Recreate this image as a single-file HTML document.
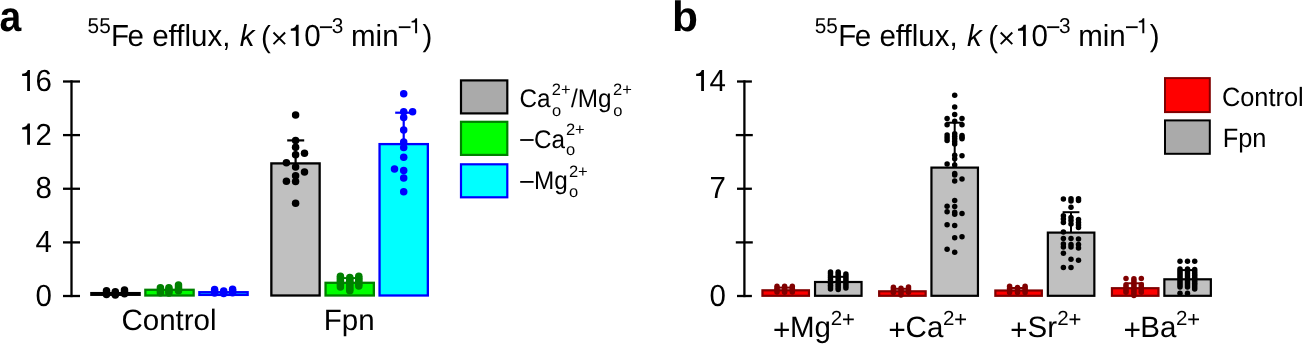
<!DOCTYPE html>
<html><head><meta charset="utf-8"><style>
html,body{margin:0;padding:0;background:#fff;}
body{width:1302px;height:344px;overflow:hidden;}
svg{display:block;font-family:"Liberation Sans", sans-serif;will-change:transform;}
</style></head><body>
<svg width="1302" height="344" viewBox="0 0 1302 344" font-family='"Liberation Sans", sans-serif' text-rendering="geometricPrecision">
<rect width="1302" height="344" fill="#fff"/>
<line x1="71.50" y1="80.35" x2="71.50" y2="297.15" stroke="#000" stroke-width="2.3" stroke-linecap="butt"/>
<line x1="63.00" y1="81.50" x2="80.00" y2="81.50" stroke="#000" stroke-width="2.3" stroke-linecap="butt"/>
<path d="M27.16,91.10 L29.96,91.10 L29.96,69.88 L27.75,69.88 C27.22,72.02 25.10,73.64 22.15,73.82 L22.15,75.93 L27.16,75.93 Z" fill="#000"/>
<text x="52.00" y="91.10" font-size="29.5" transform="matrix(1 0 0 1.035 0 -3.188)" text-anchor="end">6</text>
<line x1="63.00" y1="135.10" x2="80.00" y2="135.10" stroke="#000" stroke-width="2.3" stroke-linecap="butt"/>
<path d="M27.16,144.70 L29.96,144.70 L29.96,123.48 L27.75,123.48 C27.22,125.62 25.10,127.24 22.15,127.42 L22.15,129.53 L27.16,129.53 Z" fill="#000"/>
<text x="52.00" y="144.70" font-size="29.5" transform="matrix(1 0 0 1.035 0 -5.064)" text-anchor="end">2</text>
<line x1="63.00" y1="188.75" x2="80.00" y2="188.75" stroke="#000" stroke-width="2.3" stroke-linecap="butt"/>
<text x="52.00" y="198.35" font-size="29.5" transform="matrix(1 0 0 1.035 0 -6.942)" text-anchor="end">8</text>
<line x1="63.00" y1="242.40" x2="80.00" y2="242.40" stroke="#000" stroke-width="2.3" stroke-linecap="butt"/>
<text x="52.00" y="252.00" font-size="29.5" transform="matrix(1 0 0 1.035 0 -8.820)" text-anchor="end">4</text>
<line x1="63.00" y1="296.00" x2="80.00" y2="296.00" stroke="#000" stroke-width="2.3" stroke-linecap="butt"/>
<text x="52.00" y="305.60" font-size="29.5" transform="matrix(1 0 0 1.035 0 -10.696)" text-anchor="end">0</text>
<rect x="91.35" y="293.10" width="48.30" height="1.70" fill="#000" stroke="#000" stroke-width="2.3"/>
<rect x="145.35" y="289.80" width="48.30" height="5.70" fill="#00ff00" stroke="#008000" stroke-width="2.3"/>
<rect x="199.35" y="292.20" width="48.30" height="2.70" fill="#00ffff" stroke="#0000ff" stroke-width="2.3"/>
<rect x="271.35" y="163.40" width="48.30" height="132.10" fill="#c0c0c0" stroke="#000" stroke-width="2.3"/>
<rect x="325.55" y="282.80" width="48.30" height="12.70" fill="#00ff00" stroke="#008000" stroke-width="2.3"/>
<rect x="379.55" y="144.10" width="48.30" height="151.40" fill="#00ffff" stroke="#0000ff" stroke-width="2.3"/>
<line x1="295.60" y1="163.40" x2="295.60" y2="140.40" stroke="#000" stroke-width="2.2" stroke-linecap="butt"/>
<line x1="287.20" y1="140.40" x2="304.20" y2="140.40" stroke="#000" stroke-width="2.2" stroke-linecap="butt"/>
<line x1="403.70" y1="144.10" x2="403.70" y2="112.70" stroke="#0000ff" stroke-width="2.2" stroke-linecap="butt"/>
<line x1="395.20" y1="112.70" x2="412.20" y2="112.70" stroke="#0000ff" stroke-width="2.2" stroke-linecap="butt"/>
<line x1="349.60" y1="282.80" x2="349.60" y2="278.10" stroke="#008000" stroke-width="2.0" stroke-linecap="butt"/>
<line x1="341.10" y1="278.10" x2="358.10" y2="278.10" stroke="#008000" stroke-width="2.0" stroke-linecap="butt"/>
<circle cx="106.50" cy="290.80" r="3.75" fill="#000"/>
<circle cx="106.50" cy="292.65" r="3.75" fill="#000"/>
<circle cx="106.50" cy="294.50" r="3.75" fill="#000"/>
<circle cx="115.30" cy="291.80" r="3.75" fill="#000"/>
<circle cx="115.30" cy="293.45" r="3.75" fill="#000"/>
<circle cx="115.30" cy="295.10" r="3.75" fill="#000"/>
<circle cx="124.50" cy="290.10" r="3.75" fill="#000"/>
<circle cx="124.50" cy="291.95" r="3.75" fill="#000"/>
<circle cx="124.50" cy="293.80" r="3.75" fill="#000"/>
<circle cx="160.40" cy="287.80" r="3.75" fill="#008000"/>
<circle cx="160.40" cy="290.30" r="3.75" fill="#008000"/>
<circle cx="160.40" cy="292.80" r="3.75" fill="#008000"/>
<circle cx="168.90" cy="287.80" r="3.75" fill="#008000"/>
<circle cx="168.90" cy="289.57" r="3.75" fill="#008000"/>
<circle cx="168.90" cy="291.33" r="3.75" fill="#008000"/>
<circle cx="168.90" cy="293.10" r="3.75" fill="#008000"/>
<circle cx="178.50" cy="285.00" r="3.75" fill="#008000"/>
<circle cx="178.50" cy="286.90" r="3.75" fill="#008000"/>
<circle cx="178.50" cy="288.80" r="3.75" fill="#008000"/>
<circle cx="178.50" cy="290.70" r="3.75" fill="#008000"/>
<circle cx="214.60" cy="289.60" r="3.75" fill="#0000ff"/>
<circle cx="214.60" cy="291.35" r="3.75" fill="#0000ff"/>
<circle cx="214.60" cy="293.10" r="3.75" fill="#0000ff"/>
<circle cx="223.70" cy="291.10" r="3.75" fill="#0000ff"/>
<circle cx="223.70" cy="293.60" r="3.75" fill="#0000ff"/>
<circle cx="232.60" cy="289.30" r="3.75" fill="#0000ff"/>
<circle cx="232.60" cy="291.05" r="3.75" fill="#0000ff"/>
<circle cx="232.60" cy="292.80" r="3.75" fill="#0000ff"/>
<circle cx="295.60" cy="115.00" r="3.75" fill="#000"/>
<circle cx="295.60" cy="140.60" r="3.75" fill="#000"/>
<circle cx="295.60" cy="147.20" r="3.75" fill="#000"/>
<circle cx="304.50" cy="153.30" r="3.75" fill="#000"/>
<circle cx="295.60" cy="154.80" r="3.75" fill="#000"/>
<circle cx="286.40" cy="162.70" r="3.75" fill="#000"/>
<circle cx="295.60" cy="166.90" r="3.75" fill="#000"/>
<circle cx="304.50" cy="172.00" r="3.75" fill="#000"/>
<circle cx="295.60" cy="175.80" r="3.75" fill="#000"/>
<circle cx="286.40" cy="181.20" r="3.75" fill="#000"/>
<circle cx="295.60" cy="181.40" r="3.75" fill="#000"/>
<circle cx="295.60" cy="203.30" r="3.75" fill="#000"/>
<circle cx="340.40" cy="276.20" r="3.75" fill="#008000"/>
<circle cx="340.40" cy="278.34" r="3.75" fill="#008000"/>
<circle cx="340.40" cy="280.48" r="3.75" fill="#008000"/>
<circle cx="340.40" cy="282.62" r="3.75" fill="#008000"/>
<circle cx="340.40" cy="284.76" r="3.75" fill="#008000"/>
<circle cx="340.40" cy="286.90" r="3.75" fill="#008000"/>
<circle cx="349.80" cy="277.50" r="3.75" fill="#008000"/>
<circle cx="349.80" cy="279.40" r="3.75" fill="#008000"/>
<circle cx="349.80" cy="281.30" r="3.75" fill="#008000"/>
<circle cx="349.80" cy="283.20" r="3.75" fill="#008000"/>
<circle cx="349.80" cy="285.10" r="3.75" fill="#008000"/>
<circle cx="349.80" cy="287.00" r="3.75" fill="#008000"/>
<circle cx="349.80" cy="288.90" r="3.75" fill="#008000"/>
<circle cx="349.80" cy="290.80" r="3.75" fill="#008000"/>
<circle cx="358.80" cy="276.20" r="3.75" fill="#008000"/>
<circle cx="358.80" cy="278.16" r="3.75" fill="#008000"/>
<circle cx="358.80" cy="280.12" r="3.75" fill="#008000"/>
<circle cx="358.80" cy="282.08" r="3.75" fill="#008000"/>
<circle cx="358.80" cy="284.04" r="3.75" fill="#008000"/>
<circle cx="358.80" cy="286.00" r="3.75" fill="#008000"/>
<circle cx="403.70" cy="93.70" r="3.75" fill="#0000ff"/>
<circle cx="403.70" cy="111.70" r="3.75" fill="#0000ff"/>
<circle cx="412.60" cy="111.70" r="3.75" fill="#0000ff"/>
<circle cx="403.70" cy="117.60" r="3.75" fill="#0000ff"/>
<circle cx="403.70" cy="130.10" r="3.75" fill="#0000ff"/>
<circle cx="403.70" cy="142.00" r="3.75" fill="#0000ff"/>
<circle cx="403.70" cy="147.60" r="3.75" fill="#0000ff"/>
<circle cx="403.70" cy="157.30" r="3.75" fill="#0000ff"/>
<circle cx="394.50" cy="169.00" r="3.75" fill="#0000ff"/>
<circle cx="403.70" cy="170.60" r="3.75" fill="#0000ff"/>
<circle cx="403.70" cy="178.00" r="3.75" fill="#0000ff"/>
<circle cx="403.70" cy="191.70" r="3.75" fill="#0000ff"/>
<text x="169" y="330.1" text-anchor="middle" font-size="29.5">Control</text>
<text x="349.2" y="330.1" text-anchor="middle" font-size="29.5">Fpn</text>
<rect x="461.00" y="80.40" width="46.30" height="33.00" fill="#aaaaaa" stroke="#000" stroke-width="2.2"/>
<rect x="461.00" y="121.80" width="46.30" height="33.10" fill="#00ff00" stroke="#008000" stroke-width="2.2"/>
<rect x="461.00" y="164.30" width="46.30" height="33.00" fill="#00ffff" stroke="#0000ff" stroke-width="2.2"/>
<text x="87.60" y="33.20" font-size="20.8" transform="matrix(1 0 0 1.03 0 -0.996)">55</text>
<text x="111.00" y="45.90" font-size="29.5" transform="matrix(1 0 0 1.03 0 -1.377)">F</text>
<text x="127.60" y="45.90" font-size="29.5" transform="matrix(1 0 0 1.03 0 -1.377)">e efflux,</text>
<text x="239.80" y="45.90" font-size="29.5" transform="matrix(1 0 0 1.03 0 -1.377)" font-style="italic">k</text>
<text x="261.10" y="46.50" font-size="29.5" transform="matrix(1 0 0 1.03 0 -1.395)">(</text>
<path d="M273.50,32.5 L285.10,44.1 M273.50,44.1 L285.10,32.5" stroke="#000" stroke-width="1.9" fill="none"/>
<path d="M295.81,45.90 L298.62,45.90 L298.62,24.78 L296.41,24.78 C295.87,26.91 293.75,28.52 290.80,28.70 L290.80,30.80 L295.81,30.80 Z" fill="#000"/>
<text x="304.30" y="45.90" font-size="29.5" transform="matrix(1 0 0 1.03 0 -1.377)">0</text>
<rect x="319.90" y="26.3" width="12.2" height="1.8" fill="#000"/>
<text x="331.80" y="33.20" font-size="20.8" transform="matrix(1 0 0 1.03 0 -0.996)">3</text>
<text x="351.00" y="45.90" font-size="29.5" transform="matrix(1 0 0 1.03 0 -1.377)">min</text>
<rect x="398.80" y="26.3" width="11.7" height="1.8" fill="#000"/>
<path d="M415.12,33.20 L417.09,33.20 L417.09,18.31 L415.53,18.31 C415.16,19.81 413.66,20.95 411.58,21.07 L411.58,22.55 L415.12,22.55 Z" fill="#000"/>
<text x="422.50" y="45.90" font-size="29.5" transform="matrix(1 0 0 1.03 0 -1.377)">)</text>
<text x="814.80" y="33.20" font-size="20.8" transform="matrix(1 0 0 1.03 0 -0.996)">55</text>
<text x="838.20" y="45.90" font-size="29.5" transform="matrix(1 0 0 1.03 0 -1.377)">F</text>
<text x="854.80" y="45.90" font-size="29.5" transform="matrix(1 0 0 1.03 0 -1.377)">e efflux,</text>
<text x="967.00" y="45.90" font-size="29.5" transform="matrix(1 0 0 1.03 0 -1.377)" font-style="italic">k</text>
<text x="988.30" y="46.50" font-size="29.5" transform="matrix(1 0 0 1.03 0 -1.395)">(</text>
<path d="M1000.70,32.5 L1012.30,44.1 M1000.70,44.1 L1012.30,32.5" stroke="#000" stroke-width="1.9" fill="none"/>
<path d="M1023.02,45.90 L1025.82,45.90 L1025.82,24.78 L1023.61,24.78 C1023.07,26.91 1020.95,28.52 1018.00,28.70 L1018.00,30.80 L1023.02,30.80 Z" fill="#000"/>
<text x="1031.50" y="45.90" font-size="29.5" transform="matrix(1 0 0 1.03 0 -1.377)">0</text>
<rect x="1047.10" y="26.3" width="12.2" height="1.8" fill="#000"/>
<text x="1059.00" y="33.20" font-size="20.8" transform="matrix(1 0 0 1.03 0 -0.996)">3</text>
<text x="1078.20" y="45.90" font-size="29.5" transform="matrix(1 0 0 1.03 0 -1.377)">min</text>
<rect x="1126.00" y="26.3" width="11.7" height="1.8" fill="#000"/>
<path d="M1142.32,33.20 L1144.29,33.20 L1144.29,18.31 L1142.73,18.31 C1142.36,19.81 1140.86,20.95 1138.78,21.07 L1138.78,22.55 L1142.32,22.55 Z" fill="#000"/>
<text x="1149.70" y="45.90" font-size="29.5" transform="matrix(1 0 0 1.03 0 -1.377)">)</text>
<text x="0" y="31" font-size="42.5" font-weight="bold" transform="translate(-0.55,0) scale(0.92,1)">a</text>
<text x="672" y="31" font-size="42.5" font-weight="bold">b</text>
<text x="519.56" y="107.00" font-size="24.3" transform="matrix(1 0 0 1.05 0 -5.350)">Ca</text>
<text x="551.77" y="95.30" font-size="16.5">2+</text>
<text x="551.91" y="115.60" font-size="16.5">o</text>
<text x="571.00" y="107.00" font-size="24.3" transform="matrix(1 0 0 1.05 0 -5.350)">/Mg</text>
<text x="613.07" y="95.30" font-size="16.5">2+</text>
<text x="613.21" y="115.60" font-size="16.5">o</text>
<rect x="520.2" y="139.1" width="13.4" height="1.8" fill="#000"/>
<text x="534.06" y="147.60" font-size="24.3" transform="matrix(1 0 0 1.05 0 -7.380)">Ca</text>
<text x="565.88" y="134.80" font-size="16.5">2+</text>
<text x="566.01" y="155.30" font-size="16.5">o</text>
<rect x="520.2" y="181.0" width="13.4" height="1.8" fill="#000"/>
<text x="533.91" y="188.80" font-size="24.3" transform="matrix(1 0 0 1.05 0 -9.440)">Mg</text>
<text x="568.88" y="177.20" font-size="16.5">2+</text>
<text x="569.01" y="197.40" font-size="16.5">o</text>
<line x1="744.40" y1="80.35" x2="744.40" y2="297.15" stroke="#000" stroke-width="2.3" stroke-linecap="butt"/>
<line x1="737.00" y1="81.50" x2="751.90" y2="81.50" stroke="#000" stroke-width="2.3" stroke-linecap="butt"/>
<path d="M701.16,91.10 L703.96,91.10 L703.96,69.88 L701.75,69.88 C701.22,72.02 699.10,73.64 696.15,73.82 L696.15,75.93 L701.16,75.93 Z" fill="#000"/>
<text x="726.00" y="91.10" font-size="29.5" transform="matrix(1 0 0 1.035 0 -3.188)" text-anchor="end">4</text>
<line x1="735.80" y1="135.10" x2="752.80" y2="135.10" stroke="#000" stroke-width="2.3" stroke-linecap="butt"/>
<line x1="737.00" y1="188.75" x2="751.90" y2="188.75" stroke="#000" stroke-width="2.3" stroke-linecap="butt"/>
<text x="726.00" y="198.35" font-size="29.5" transform="matrix(1 0 0 1.035 0 -6.942)" text-anchor="end">7</text>
<line x1="735.80" y1="242.40" x2="752.80" y2="242.40" stroke="#000" stroke-width="2.3" stroke-linecap="butt"/>
<line x1="737.00" y1="296.00" x2="751.90" y2="296.00" stroke="#000" stroke-width="2.3" stroke-linecap="butt"/>
<text x="726.00" y="305.60" font-size="29.5" transform="matrix(1 0 0 1.035 0 -10.696)" text-anchor="end">0</text>
<rect x="762.45" y="290.30" width="46.50" height="5.50" fill="#ff0000" stroke="#800000" stroke-width="2.2"/>
<rect x="879.15" y="291.30" width="46.50" height="4.50" fill="#ff0000" stroke="#800000" stroke-width="2.2"/>
<rect x="995.35" y="290.50" width="46.50" height="5.30" fill="#ff0000" stroke="#800000" stroke-width="2.2"/>
<rect x="1111.95" y="288.20" width="46.50" height="7.60" fill="#ff0000" stroke="#800000" stroke-width="2.2"/>
<rect x="815.05" y="282.00" width="46.50" height="13.80" fill="#c0c0c0" stroke="#000" stroke-width="2.2"/>
<rect x="931.45" y="167.60" width="46.50" height="128.20" fill="#c0c0c0" stroke="#000" stroke-width="2.2"/>
<rect x="1047.85" y="232.60" width="46.50" height="63.20" fill="#c0c0c0" stroke="#000" stroke-width="2.2"/>
<rect x="1164.35" y="279.30" width="46.50" height="16.50" fill="#c0c0c0" stroke="#000" stroke-width="2.2"/>
<line x1="954.70" y1="167.60" x2="954.70" y2="122.70" stroke="#000" stroke-width="2.0" stroke-linecap="butt"/>
<line x1="946.30" y1="122.70" x2="963.10" y2="122.70" stroke="#000" stroke-width="2.0" stroke-linecap="butt"/>
<line x1="1071.00" y1="232.60" x2="1071.00" y2="212.20" stroke="#000" stroke-width="2.0" stroke-linecap="butt"/>
<line x1="1062.60" y1="212.20" x2="1079.40" y2="212.20" stroke="#000" stroke-width="2.0" stroke-linecap="butt"/>
<line x1="838.20" y1="282.00" x2="838.20" y2="276.80" stroke="#000" stroke-width="2.0" stroke-linecap="butt"/>
<line x1="829.80" y1="276.80" x2="846.60" y2="276.80" stroke="#000" stroke-width="2.0" stroke-linecap="butt"/>
<line x1="1187.50" y1="279.30" x2="1187.50" y2="270.10" stroke="#000" stroke-width="2.0" stroke-linecap="butt"/>
<line x1="1179.10" y1="270.10" x2="1195.90" y2="270.10" stroke="#000" stroke-width="2.0" stroke-linecap="butt"/>
<line x1="785.70" y1="290.30" x2="785.70" y2="287.60" stroke="#800000" stroke-width="2.0" stroke-linecap="butt"/>
<line x1="777.30" y1="287.60" x2="794.10" y2="287.60" stroke="#800000" stroke-width="2.0" stroke-linecap="butt"/>
<line x1="902.40" y1="291.30" x2="902.40" y2="288.80" stroke="#800000" stroke-width="2.0" stroke-linecap="butt"/>
<line x1="894.00" y1="288.80" x2="910.80" y2="288.80" stroke="#800000" stroke-width="2.0" stroke-linecap="butt"/>
<line x1="1018.60" y1="290.50" x2="1018.60" y2="288.00" stroke="#800000" stroke-width="2.0" stroke-linecap="butt"/>
<line x1="1010.20" y1="288.00" x2="1027.00" y2="288.00" stroke="#800000" stroke-width="2.0" stroke-linecap="butt"/>
<line x1="1135.20" y1="288.20" x2="1135.20" y2="283.30" stroke="#800000" stroke-width="2.0" stroke-linecap="butt"/>
<line x1="1126.80" y1="283.30" x2="1143.60" y2="283.30" stroke="#800000" stroke-width="2.0" stroke-linecap="butt"/>
<circle cx="777.00" cy="286.20" r="2.75" fill="#800000"/>
<circle cx="777.00" cy="288.13" r="2.75" fill="#800000"/>
<circle cx="777.00" cy="290.07" r="2.75" fill="#800000"/>
<circle cx="777.00" cy="292.00" r="2.75" fill="#800000"/>
<circle cx="784.60" cy="286.20" r="2.75" fill="#800000"/>
<circle cx="784.60" cy="288.23" r="2.75" fill="#800000"/>
<circle cx="784.60" cy="290.27" r="2.75" fill="#800000"/>
<circle cx="784.60" cy="292.30" r="2.75" fill="#800000"/>
<circle cx="792.30" cy="286.20" r="2.75" fill="#800000"/>
<circle cx="792.30" cy="288.13" r="2.75" fill="#800000"/>
<circle cx="792.30" cy="290.07" r="2.75" fill="#800000"/>
<circle cx="792.30" cy="292.00" r="2.75" fill="#800000"/>
<circle cx="893.40" cy="287.30" r="2.75" fill="#800000"/>
<circle cx="893.40" cy="289.00" r="2.75" fill="#800000"/>
<circle cx="893.40" cy="290.70" r="2.75" fill="#800000"/>
<circle cx="893.40" cy="292.40" r="2.75" fill="#800000"/>
<circle cx="901.00" cy="288.30" r="2.75" fill="#800000"/>
<circle cx="901.00" cy="290.53" r="2.75" fill="#800000"/>
<circle cx="901.00" cy="292.77" r="2.75" fill="#800000"/>
<circle cx="901.00" cy="295.00" r="2.75" fill="#800000"/>
<circle cx="908.50" cy="287.00" r="2.75" fill="#800000"/>
<circle cx="908.50" cy="288.73" r="2.75" fill="#800000"/>
<circle cx="908.50" cy="290.47" r="2.75" fill="#800000"/>
<circle cx="908.50" cy="292.20" r="2.75" fill="#800000"/>
<circle cx="1009.60" cy="286.20" r="2.75" fill="#800000"/>
<circle cx="1009.60" cy="288.27" r="2.75" fill="#800000"/>
<circle cx="1009.60" cy="290.33" r="2.75" fill="#800000"/>
<circle cx="1009.60" cy="292.40" r="2.75" fill="#800000"/>
<circle cx="1017.50" cy="287.50" r="2.75" fill="#800000"/>
<circle cx="1017.50" cy="289.95" r="2.75" fill="#800000"/>
<circle cx="1017.50" cy="292.40" r="2.75" fill="#800000"/>
<circle cx="1025.10" cy="286.20" r="2.75" fill="#800000"/>
<circle cx="1025.10" cy="288.27" r="2.75" fill="#800000"/>
<circle cx="1025.10" cy="290.33" r="2.75" fill="#800000"/>
<circle cx="1025.10" cy="292.40" r="2.75" fill="#800000"/>
<circle cx="1126.00" cy="278.40" r="2.75" fill="#800000"/>
<circle cx="1126.00" cy="284.80" r="2.75" fill="#800000"/>
<circle cx="1126.00" cy="286.68" r="2.75" fill="#800000"/>
<circle cx="1126.00" cy="288.55" r="2.75" fill="#800000"/>
<circle cx="1126.00" cy="290.43" r="2.75" fill="#800000"/>
<circle cx="1126.00" cy="292.30" r="2.75" fill="#800000"/>
<circle cx="1133.90" cy="278.70" r="2.75" fill="#800000"/>
<circle cx="1133.90" cy="280.79" r="2.75" fill="#800000"/>
<circle cx="1133.90" cy="282.88" r="2.75" fill="#800000"/>
<circle cx="1133.90" cy="284.96" r="2.75" fill="#800000"/>
<circle cx="1133.90" cy="287.05" r="2.75" fill="#800000"/>
<circle cx="1133.90" cy="289.14" r="2.75" fill="#800000"/>
<circle cx="1133.90" cy="291.22" r="2.75" fill="#800000"/>
<circle cx="1133.90" cy="293.31" r="2.75" fill="#800000"/>
<circle cx="1133.90" cy="295.40" r="2.75" fill="#800000"/>
<circle cx="1141.30" cy="278.40" r="2.75" fill="#800000"/>
<circle cx="1141.30" cy="284.80" r="2.75" fill="#800000"/>
<circle cx="1141.30" cy="286.68" r="2.75" fill="#800000"/>
<circle cx="1141.30" cy="288.55" r="2.75" fill="#800000"/>
<circle cx="1141.30" cy="290.43" r="2.75" fill="#800000"/>
<circle cx="1141.30" cy="292.30" r="2.75" fill="#800000"/>
<circle cx="830.50" cy="271.90" r="2.75" fill="#000"/>
<circle cx="830.50" cy="273.80" r="2.75" fill="#000"/>
<circle cx="830.50" cy="275.70" r="2.75" fill="#000"/>
<circle cx="830.50" cy="277.60" r="2.75" fill="#000"/>
<circle cx="830.50" cy="279.50" r="2.75" fill="#000"/>
<circle cx="830.50" cy="281.40" r="2.75" fill="#000"/>
<circle cx="830.50" cy="283.30" r="2.75" fill="#000"/>
<circle cx="830.50" cy="285.20" r="2.75" fill="#000"/>
<circle cx="830.50" cy="287.10" r="2.75" fill="#000"/>
<circle cx="830.50" cy="289.00" r="2.75" fill="#000"/>
<circle cx="838.20" cy="271.90" r="2.75" fill="#000"/>
<circle cx="838.20" cy="273.86" r="2.75" fill="#000"/>
<circle cx="838.20" cy="275.81" r="2.75" fill="#000"/>
<circle cx="838.20" cy="277.77" r="2.75" fill="#000"/>
<circle cx="838.20" cy="279.72" r="2.75" fill="#000"/>
<circle cx="838.20" cy="281.68" r="2.75" fill="#000"/>
<circle cx="838.20" cy="283.63" r="2.75" fill="#000"/>
<circle cx="838.20" cy="285.59" r="2.75" fill="#000"/>
<circle cx="838.20" cy="287.54" r="2.75" fill="#000"/>
<circle cx="838.20" cy="289.50" r="2.75" fill="#000"/>
<circle cx="845.90" cy="274.00" r="2.75" fill="#000"/>
<circle cx="845.90" cy="276.00" r="2.75" fill="#000"/>
<circle cx="845.90" cy="278.00" r="2.75" fill="#000"/>
<circle cx="845.90" cy="280.00" r="2.75" fill="#000"/>
<circle cx="845.90" cy="282.00" r="2.75" fill="#000"/>
<circle cx="845.90" cy="284.00" r="2.75" fill="#000"/>
<circle cx="845.90" cy="286.00" r="2.75" fill="#000"/>
<circle cx="845.90" cy="288.00" r="2.75" fill="#000"/>
<circle cx="954.70" cy="95.20" r="2.75" fill="#000"/>
<circle cx="954.70" cy="106.90" r="2.75" fill="#000"/>
<circle cx="954.70" cy="114.50" r="2.75" fill="#000"/>
<circle cx="954.70" cy="121.20" r="2.75" fill="#000"/>
<circle cx="954.70" cy="133.80" r="2.75" fill="#000"/>
<circle cx="954.70" cy="136.33" r="2.75" fill="#000"/>
<circle cx="954.70" cy="138.85" r="2.75" fill="#000"/>
<circle cx="954.70" cy="141.38" r="2.75" fill="#000"/>
<circle cx="954.70" cy="143.90" r="2.75" fill="#000"/>
<circle cx="954.70" cy="155.30" r="2.75" fill="#000"/>
<circle cx="954.70" cy="158.80" r="2.75" fill="#000"/>
<circle cx="954.70" cy="164.90" r="2.75" fill="#000"/>
<circle cx="954.70" cy="173.60" r="2.75" fill="#000"/>
<circle cx="954.70" cy="174.90" r="2.75" fill="#000"/>
<circle cx="954.70" cy="181.00" r="2.75" fill="#000"/>
<circle cx="954.70" cy="200.60" r="2.75" fill="#000"/>
<circle cx="954.70" cy="206.40" r="2.75" fill="#000"/>
<circle cx="954.70" cy="212.30" r="2.75" fill="#000"/>
<circle cx="954.70" cy="214.30" r="2.75" fill="#000"/>
<circle cx="954.70" cy="225.50" r="2.75" fill="#000"/>
<circle cx="954.70" cy="237.70" r="2.75" fill="#000"/>
<circle cx="954.70" cy="252.30" r="2.75" fill="#000"/>
<circle cx="947.10" cy="118.40" r="2.75" fill="#000"/>
<circle cx="947.10" cy="124.70" r="2.75" fill="#000"/>
<circle cx="947.10" cy="135.00" r="2.75" fill="#000"/>
<circle cx="947.10" cy="137.70" r="2.75" fill="#000"/>
<circle cx="947.10" cy="140.40" r="2.75" fill="#000"/>
<circle cx="947.10" cy="163.90" r="2.75" fill="#000"/>
<circle cx="947.10" cy="206.20" r="2.75" fill="#000"/>
<circle cx="947.10" cy="211.80" r="2.75" fill="#000"/>
<circle cx="947.10" cy="224.70" r="2.75" fill="#000"/>
<circle cx="947.10" cy="249.20" r="2.75" fill="#000"/>
<circle cx="962.00" cy="118.60" r="2.75" fill="#000"/>
<circle cx="962.00" cy="124.70" r="2.75" fill="#000"/>
<circle cx="962.00" cy="135.60" r="2.75" fill="#000"/>
<circle cx="962.00" cy="137.15" r="2.75" fill="#000"/>
<circle cx="962.00" cy="138.70" r="2.75" fill="#000"/>
<circle cx="962.00" cy="155.80" r="2.75" fill="#000"/>
<circle cx="962.00" cy="179.00" r="2.75" fill="#000"/>
<circle cx="962.00" cy="213.50" r="2.75" fill="#000"/>
<circle cx="962.00" cy="236.70" r="2.75" fill="#000"/>
<circle cx="1063.40" cy="199.00" r="2.75" fill="#000"/>
<circle cx="1063.40" cy="215.80" r="2.75" fill="#000"/>
<circle cx="1063.40" cy="219.00" r="2.75" fill="#000"/>
<circle cx="1063.40" cy="222.50" r="2.75" fill="#000"/>
<circle cx="1063.40" cy="231.90" r="2.75" fill="#000"/>
<circle cx="1063.40" cy="238.60" r="2.75" fill="#000"/>
<circle cx="1063.40" cy="244.00" r="2.75" fill="#000"/>
<circle cx="1063.40" cy="247.00" r="2.75" fill="#000"/>
<circle cx="1063.40" cy="253.30" r="2.75" fill="#000"/>
<circle cx="1063.40" cy="267.60" r="2.75" fill="#000"/>
<circle cx="1071.00" cy="198.80" r="2.75" fill="#000"/>
<circle cx="1071.00" cy="201.00" r="2.75" fill="#000"/>
<circle cx="1071.00" cy="207.30" r="2.75" fill="#000"/>
<circle cx="1071.00" cy="217.40" r="2.75" fill="#000"/>
<circle cx="1071.00" cy="220.50" r="2.75" fill="#000"/>
<circle cx="1071.00" cy="224.00" r="2.75" fill="#000"/>
<circle cx="1071.00" cy="238.60" r="2.75" fill="#000"/>
<circle cx="1071.00" cy="244.50" r="2.75" fill="#000"/>
<circle cx="1071.00" cy="247.00" r="2.75" fill="#000"/>
<circle cx="1071.00" cy="259.20" r="2.75" fill="#000"/>
<circle cx="1071.00" cy="267.60" r="2.75" fill="#000"/>
<circle cx="1078.50" cy="198.80" r="2.75" fill="#000"/>
<circle cx="1078.50" cy="200.50" r="2.75" fill="#000"/>
<circle cx="1078.50" cy="219.40" r="2.75" fill="#000"/>
<circle cx="1078.50" cy="222.50" r="2.75" fill="#000"/>
<circle cx="1078.50" cy="225.00" r="2.75" fill="#000"/>
<circle cx="1078.50" cy="227.60" r="2.75" fill="#000"/>
<circle cx="1078.50" cy="238.90" r="2.75" fill="#000"/>
<circle cx="1078.50" cy="244.50" r="2.75" fill="#000"/>
<circle cx="1078.50" cy="248.00" r="2.75" fill="#000"/>
<circle cx="1078.50" cy="260.20" r="2.75" fill="#000"/>
<circle cx="1180.00" cy="261.30" r="2.75" fill="#000"/>
<circle cx="1187.50" cy="261.30" r="2.75" fill="#000"/>
<circle cx="1194.70" cy="261.30" r="2.75" fill="#000"/>
<circle cx="1180.00" cy="269.00" r="2.75" fill="#000"/>
<circle cx="1180.00" cy="270.99" r="2.75" fill="#000"/>
<circle cx="1180.00" cy="272.98" r="2.75" fill="#000"/>
<circle cx="1180.00" cy="274.97" r="2.75" fill="#000"/>
<circle cx="1180.00" cy="276.96" r="2.75" fill="#000"/>
<circle cx="1180.00" cy="278.94" r="2.75" fill="#000"/>
<circle cx="1180.00" cy="280.93" r="2.75" fill="#000"/>
<circle cx="1180.00" cy="282.92" r="2.75" fill="#000"/>
<circle cx="1180.00" cy="284.91" r="2.75" fill="#000"/>
<circle cx="1180.00" cy="286.90" r="2.75" fill="#000"/>
<circle cx="1180.00" cy="293.20" r="2.75" fill="#000"/>
<circle cx="1187.50" cy="269.00" r="2.75" fill="#000"/>
<circle cx="1187.50" cy="270.99" r="2.75" fill="#000"/>
<circle cx="1187.50" cy="272.98" r="2.75" fill="#000"/>
<circle cx="1187.50" cy="274.97" r="2.75" fill="#000"/>
<circle cx="1187.50" cy="276.96" r="2.75" fill="#000"/>
<circle cx="1187.50" cy="278.94" r="2.75" fill="#000"/>
<circle cx="1187.50" cy="280.93" r="2.75" fill="#000"/>
<circle cx="1187.50" cy="282.92" r="2.75" fill="#000"/>
<circle cx="1187.50" cy="284.91" r="2.75" fill="#000"/>
<circle cx="1187.50" cy="286.90" r="2.75" fill="#000"/>
<circle cx="1187.50" cy="293.20" r="2.75" fill="#000"/>
<circle cx="1194.70" cy="269.50" r="2.75" fill="#000"/>
<circle cx="1194.70" cy="271.45" r="2.75" fill="#000"/>
<circle cx="1194.70" cy="273.40" r="2.75" fill="#000"/>
<circle cx="1194.70" cy="275.35" r="2.75" fill="#000"/>
<circle cx="1194.70" cy="277.30" r="2.75" fill="#000"/>
<circle cx="1194.70" cy="279.25" r="2.75" fill="#000"/>
<circle cx="1194.70" cy="281.20" r="2.75" fill="#000"/>
<circle cx="1194.70" cy="283.15" r="2.75" fill="#000"/>
<circle cx="1194.70" cy="285.10" r="2.75" fill="#000"/>
<circle cx="1194.70" cy="287.05" r="2.75" fill="#000"/>
<circle cx="1194.70" cy="289.00" r="2.75" fill="#000"/>
<path d="M774.40,329.90 H788.90 M781.65,322.60 V337.10" stroke="#000" stroke-width="2.1" fill="none"/>
<text x="790.00" y="337.40" font-size="29.5">Mg</text>
<text x="830.77" y="324.80" font-size="20.5">2</text>
<path d="M843.00,319.40 H853.80 M848.40,314.10 V324.70" stroke="#000" stroke-width="1.6" fill="none"/>
<path d="M889.80,329.90 H904.30 M897.05,322.60 V337.10" stroke="#000" stroke-width="2.1" fill="none"/>
<text x="905.60" y="337.40" font-size="29.5">Ca</text>
<text x="942.98" y="324.80" font-size="20.5">2</text>
<path d="M955.20,319.40 H966.00 M960.60,314.10 V324.70" stroke="#000" stroke-width="1.6" fill="none"/>
<path d="M1011.60,329.90 H1026.10 M1018.85,322.60 V337.10" stroke="#000" stroke-width="2.1" fill="none"/>
<text x="1027.50" y="337.40" font-size="29.5">Sr</text>
<text x="1057.27" y="324.80" font-size="20.5">2</text>
<path d="M1069.50,319.40 H1080.30 M1074.90,314.10 V324.70" stroke="#000" stroke-width="1.6" fill="none"/>
<path d="M1125.00,329.90 H1139.50 M1132.25,322.60 V337.10" stroke="#000" stroke-width="2.1" fill="none"/>
<text x="1140.30" y="337.40" font-size="29.5">Ba</text>
<text x="1175.97" y="324.80" font-size="20.5">2</text>
<path d="M1188.20,319.40 H1199.00 M1193.60,314.10 V324.70" stroke="#000" stroke-width="1.6" fill="none"/>
<rect x="1165.00" y="78.10" width="44.80" height="34.00" fill="#ff0000" stroke="#800000" stroke-width="2.0"/>
<rect x="1165.00" y="120.40" width="44.80" height="33.40" fill="#aaaaaa" stroke="#000" stroke-width="2.0"/>
<text x="1221.90" y="105.60" font-size="25.4" transform="matrix(1 0 0 1.04 0 -4.224)">Control</text>
<text x="1222.70" y="146.70" font-size="25.4" transform="matrix(1 0 0 1.04 0 -5.868)">Fpn</text>
</svg>
</body></html>
